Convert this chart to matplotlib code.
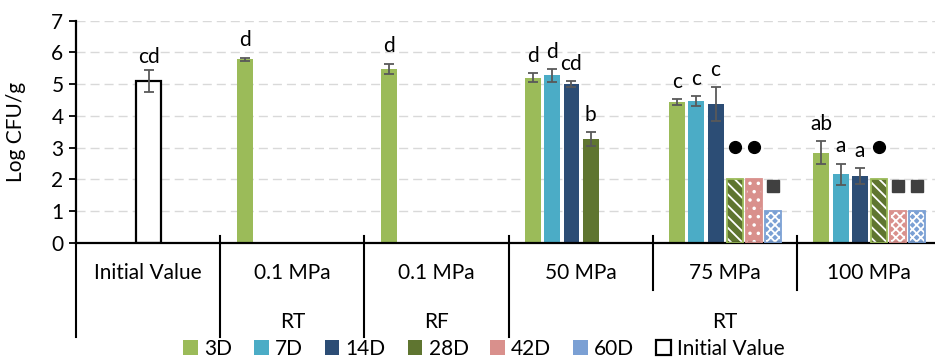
import numpy as np
import matplotlib.pyplot as plt
from matplotlib.patches import Patch
from matplotlib.transforms import blended_transform_factory

plt.rcParams['font.family'] = ['Lato', 'DejaVu Sans']
plt.rcParams['hatch.linewidth'] = 1.3

# data (Log CFU/g)
series = ['3D', '7D', '14D', '28D', '42D', '60D']
groups = ['Initial Value', '0.1 MPa', '0.1 MPa', '50 MPa', '75 MPa', '100 MPa']
conditions = ['RT', 'RF', 'RT']

initial_value = 5.10
initial_err = 0.36
initial_letter = 'cd'

rt_01 = [5.78]
rt_01_err = [0.06]
rt_01_letters = ['d']

rf_01 = [5.48]
rf_01_err = [0.17]
rf_01_letters = ['d']

mpa50 = [5.21, 5.28, 5.00, 3.26]
mpa50_err = [0.13, 0.20, 0.10, 0.22]
mpa50_letters = ['d', 'd', 'cd', 'b']

mpa75 = [4.44, 4.46, 4.37, 2.0, 2.0, 1.0]
mpa75_err = [0.09, 0.16, 0.53, 0, 0, 0]
mpa75_letters = ['c', 'c', 'c', '', '', '']
mpa75_marks = ['', '', '', 'o', 'o', 's']

mpa100 = [2.84, 2.16, 2.11, 2.0, 1.0, 1.0]
mpa100_err = [0.36, 0.33, 0.24, 0, 0, 0]
mpa100_letters = ['ab', 'a', 'a', '', '', '']
mpa100_marks = ['', '', '', 'o', 's', 's']

colors = ['#9BBB59', '#4BACC6', '#2C4D75', '#5F7530', '#D9908C', '#7BA0D4']
edge_light = ['#9BBB59', '#4BACC6', '#2C4D75', '#9BBB59', '#D9908C', '#7BA0D4']
hatch75 = [None, None, None, '\\\\\\', '..', 'xxxx']
hatch100 = [None, None, None, '\\\\\\', 'xxxx', 'xxxx']

FS = 15

fig = plt.figure(figsize=(9.35, 3.63), dpi=100)
ax = fig.add_axes([76 / 935, 120 / 363, 859 / 935, 222.3 / 363])

for y in range(1, 8):
    ax.axhline(y, color='#D9D9D9', lw=1.0, ls=(0, (6.5, 3.6)), zorder=0)

W = 0.11
ecol = '#595959'


def draw_group(gi, vals, errs, letters, hatches=None, marks=None):
    for k, v in enumerate(vals):
        x = gi + 0.17 + 0.1332 * k
        h = hatches[k] if hatches else None
        if h:
            ax.bar(x, v, W, color=colors[k], hatch=h, edgecolor='white', lw=0, zorder=2)
            ax.bar(x, v, W, fill=False, edgecolor=edge_light[k], lw=1.3, zorder=3)
        else:
            ax.bar(x, v, W, color=colors[k], zorder=2)
        if errs[k] > 0:
            ax.errorbar(x, v, yerr=errs[k], color=ecol, lw=1.3, capsize=3.8,
                        capthick=1.3, zorder=4)
        if letters[k]:
            ax.text(x, v + errs[k] + 0.36, letters[k], ha='center', va='baseline',
                    fontsize=FS)
        if marks and marks[k] == 'o':
            ax.plot(x, v + 1.03, 'o', ms=8.5, color='black', zorder=4)
        elif marks and marks[k] == 's':
            ax.plot(x, v + 0.78, 's', ms=8.5, color='#404040', zorder=4)


# initial value bar
ax.bar(0.504, initial_value, 0.173, color='white', edgecolor='black', lw=1.6, zorder=2)
ax.errorbar(0.504, initial_value, yerr=initial_err, color=ecol, lw=1.3, capsize=3.8,
            capthick=1.3, zorder=4)
ax.text(0.504, initial_value + initial_err + 0.22, initial_letter, ha='center',
        va='baseline', fontsize=FS)

draw_group(1, rt_01, rt_01_err, rt_01_letters)
draw_group(2, rf_01, rf_01_err, rf_01_letters)
draw_group(3, mpa50, mpa50_err, mpa50_letters)
draw_group(4, mpa75, mpa75_err, mpa75_letters, hatch75, mpa75_marks)
draw_group(5, mpa100, mpa100_err, mpa100_letters, hatch100, mpa100_marks)

ax.set_xlim(0, 5.958)
ax.set_ylim(0, 7)
ax.set_yticks(range(0, 8))
ax.tick_params(axis='y', labelsize=FS, length=5, width=1.3, direction='out', pad=4)
ax.set_xticks([])
for s in ['top', 'right']:
    ax.spines[s].set_visible(False)
ax.spines['left'].set_linewidth(1.6)
ax.spines['bottom'].set_linewidth(1.6)
ax.set_ylabel('Log CFU/g', fontsize=FS)
ax.yaxis.set_label_coords(-0.058, 0.5)

# multi-level category axis
tr = blended_transform_factory(ax.transData, ax.transAxes)
for b in range(6):
    low = -0.423 if b <= 3 else -0.211
    ax.plot([b, b], [0.031 if b > 0 else 0, low], color='black', lw=1.5,
            transform=tr, clip_on=False)
for i, g in enumerate(groups):
    ax.text(i + 0.5, -0.135, g, transform=tr, ha='center', va='center', fontsize=FS)
ax.text(1.5, -0.355, conditions[0], transform=tr, ha='center', va='center', fontsize=FS)
ax.text(2.5, -0.355, conditions[1], transform=tr, ha='center', va='center', fontsize=FS)
ax.text(4.5, -0.355, conditions[2], transform=tr, ha='center', va='center', fontsize=FS)

handles = [Patch(facecolor=c, label=s) for c, s in zip(colors, series)]
handles.append(Patch(facecolor='white', edgecolor='black', lw=1.6, label='Initial Value'))
fig.legend(handles=handles, loc='center', bbox_to_anchor=(484 / 935, 14 / 363),
           ncol=7, frameon=False, fontsize=FS, handlelength=0.7, handleheight=0.7,
           handletextpad=0.3, columnspacing=1.05, borderpad=0)

plt.savefig('out.png', dpi=100)
